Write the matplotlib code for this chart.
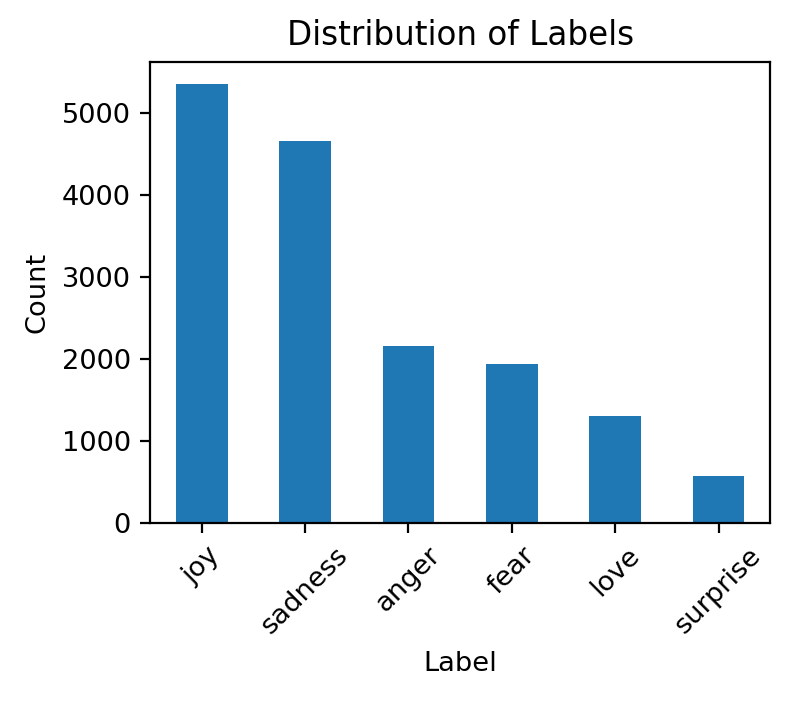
import matplotlib
matplotlib.use("Agg")
import matplotlib.pyplot as plt

labels = ["joy", "sadness", "anger", "fear", "love", "surprise"]
counts = [5362, 4666, 2159, 1937, 1304, 572]

plt.rcParams["font.size"] = 9.8

fig = plt.figure(figsize=(3.95, 3.515), dpi=200)
ax = fig.add_axes([0.190, 0.256, 0.785, 0.656])

ax.bar(range(len(labels)), counts, width=0.5, color="#1f77b4")
ax.set_xticks(range(len(labels)))
ax.set_xticklabels(labels, rotation=45)
ax.set_xlim(-0.5, len(labels) - 0.5)
ax.set_title("Distribution of Labels")
ax.set_xlabel("Label")
ax.set_ylabel("Count")

fig.savefig("out.png", dpi=200)
